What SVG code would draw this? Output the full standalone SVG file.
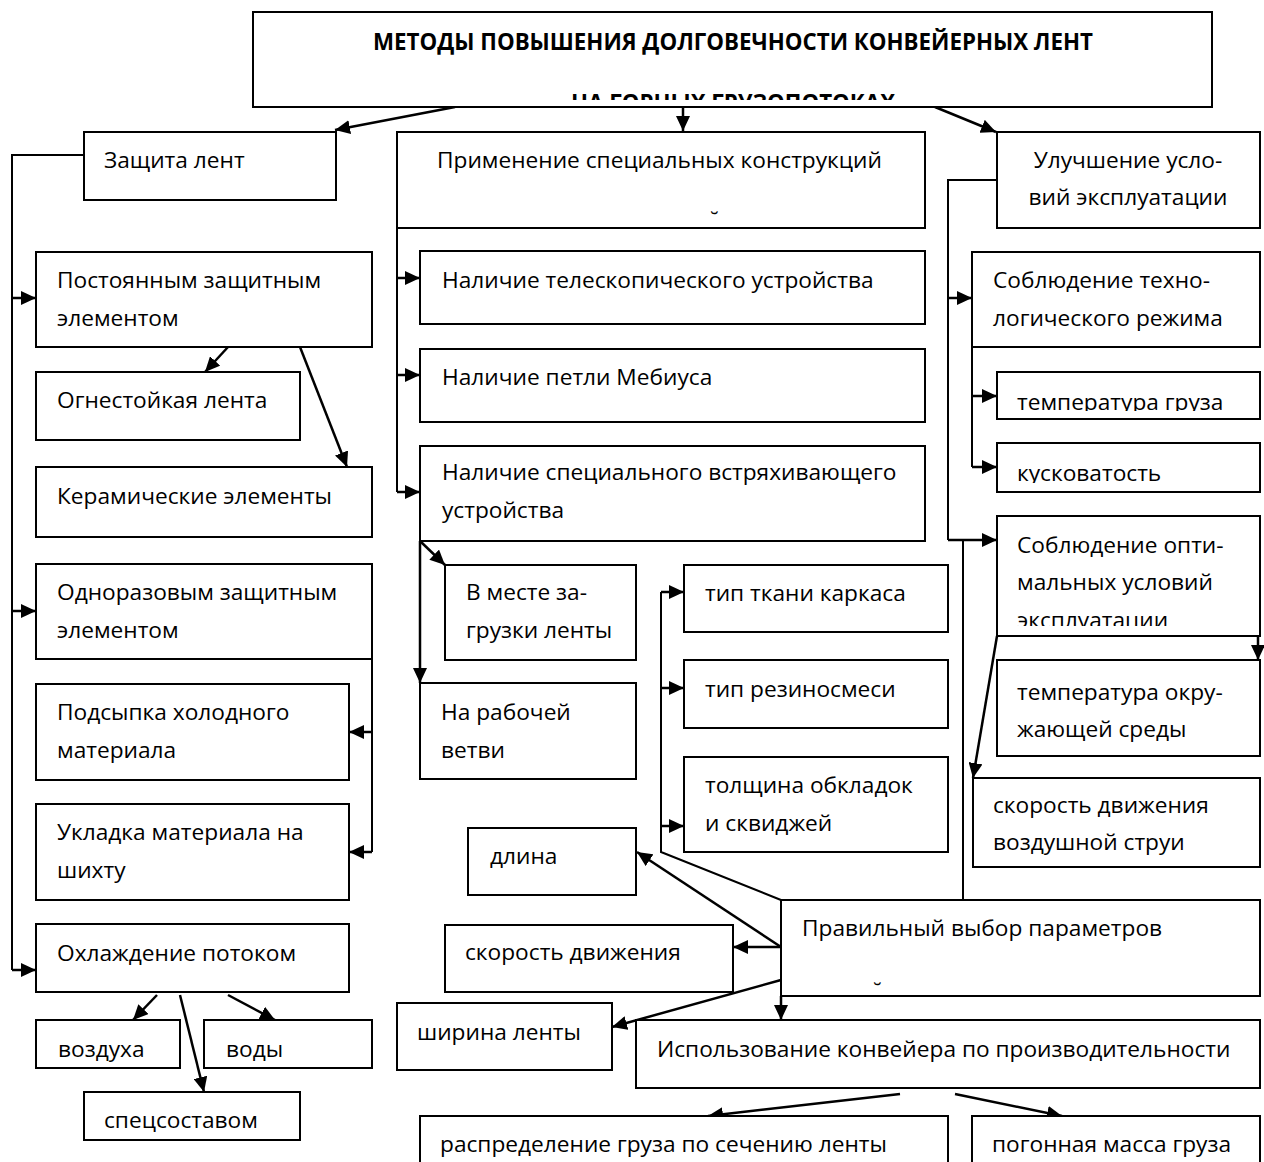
<svg xmlns="http://www.w3.org/2000/svg" width="1264" height="1162" viewBox="0 0 1264 1162">
<style>
.box{fill:#fff;stroke:#000;stroke-width:2}
.t{font-family:"Open Sans","Noto Sans","DejaVu Sans",sans-serif;font-size:22.7px;fill:#000}
.ttl{font-family:"Open Sans","Noto Sans","DejaVu Sans",sans-serif;font-size:22.3px;font-weight:bold;fill:#000}
.c{fill:none;stroke:#000;stroke-width:2}
.a{fill:none;stroke:#000;stroke-width:2.5;marker-end:url(#ah)}
</style>
<defs>
<marker id="ah" markerUnits="userSpaceOnUse" markerWidth="16" markerHeight="14" refX="15" refY="7" orient="auto">
<path d="M0,0 L15,7 L0,14 z" fill="#000"/>
</marker>
<clipPath id="cpTitle"><rect x="253" y="93" width="959" height="7"/></clipPath>
<clipPath id="cpTG"><rect x="997" y="372" width="263" height="39"/></clipPath>
<clipPath id="cpK"><rect x="997" y="443" width="263" height="40"/></clipPath>
<clipPath id="cpSO"><rect x="997" y="516" width="263" height="110"/></clipPath>
</defs>
<rect width="1264" height="1162" fill="#fff"/>

<g id="connectors">
<path class="a" d="M455,107 L335,130"/>
<path class="a" d="M683,107 L683,131"/>
<path class="a" d="M935,107 L996,132"/>
<path class="c" d="M84,155 L12,155 L12,970"/>
<path class="a" d="M12,298 L36,298"/>
<path class="a" d="M12,611 L36,611"/>
<path class="a" d="M12,970 L36,970"/>
<path class="a" d="M228,347 L205,372"/>
<path class="a" d="M300,347 L347,467"/>
<path class="c" d="M372,659 L372,852"/>
<path class="a" d="M372,732 L349,732"/>
<path class="a" d="M372,852 L349,852"/>
<path class="a" d="M157,995 L133,1020"/>
<path class="a" d="M180,995 L204,1092"/>
<path class="a" d="M228,995 L275,1020"/>
<path class="c" d="M397,228 L397,492"/>
<path class="a" d="M397,278 L420,278"/>
<path class="a" d="M397,375 L420,375"/>
<path class="a" d="M397,492 L420,492"/>
<path class="a" d="M420,541 L420,683"/>
<path class="a" d="M420,541 L445,565"/>
<path class="c" d="M781,900 L661,852 L661,592"/>
<path class="a" d="M661,592 L684,592"/>
<path class="a" d="M661,688 L684,688"/>
<path class="a" d="M661,826 L684,826"/>
<path class="a" d="M781,947 L637,852"/>
<path class="a" d="M781,947 L733,947"/>
<path class="a" d="M781,980 L612,1027"/>
<path class="a" d="M781,996 L781,1020"/>
<path class="c" d="M963,540 L963,900"/>
<path class="c" d="M997,180 L948,180 L948,540"/>
<path class="a" d="M948,298 L972,298"/>
<path class="a" d="M948,540 L997,540"/>
<path class="c" d="M972,347 L972,467"/>
<path class="a" d="M972,396 L997,396"/>
<path class="a" d="M972,467 L997,467"/>
<path class="a" d="M1258,636 L1258,660"/>
<path class="a" d="M997,636 L973,778"/>
<path class="a" d="M900,1094 L708,1116"/>
<path class="a" d="M955,1094 L1062,1116"/>
</g>

<g id="n-title"><rect class="box" x="253" y="12" width="959" height="95"/>
<text class="ttl" x="733" y="50" text-anchor="middle">МЕТОДЫ ПОВЫШЕНИЯ ДОЛГОВЕЧНОСТИ КОНВЕЙЕРНЫХ ЛЕНТ</text>
<text class="ttl" x="733" y="111" text-anchor="middle" clip-path="url(#cpTitle)">НА ГОРНЫХ ГРУЗОПОТОКАХ</text></g>

<g id="n-zashita"><rect class="box" x="84" y="132" width="252" height="68"/><text class="t" x="104" y="168">Защита лент</text></g>
<g id="n-primenenie"><rect class="box" x="397" y="132" width="528" height="96"/><text class="t" x="437" y="168">Применение специальных конструкций</text><text class="t" x="710" y="228" font-size="14">˘</text></g>
<g id="n-uluchshenie"><rect class="box" x="997" y="132" width="263" height="96"/><text class="t" x="1128" y="168" text-anchor="middle">Улучшение усло-</text><text class="t" x="1128" y="205" text-anchor="middle">вий эксплуатации</text></g>

<g id="n-postoyannym"><rect class="box" x="36" y="252" width="336" height="95"/><text class="t" x="57" y="288">Постоянным защитным</text><text class="t" x="57" y="326">элементом</text></g>
<g id="n-ognestoikaya"><rect class="box" x="36" y="372" width="264" height="68"/><text class="t" x="57" y="408">Огнестойкая лента</text></g>
<g id="n-keramicheskie"><rect class="box" x="36" y="467" width="336" height="70"/><text class="t" x="57" y="504">Керамические элементы</text></g>
<g id="n-odnorazovym"><rect class="box" x="36" y="564" width="336" height="95"/><text class="t" x="57" y="600">Одноразовым защитным</text><text class="t" x="57" y="638">элементом</text></g>
<g id="n-podsypka"><rect class="box" x="36" y="684" width="313" height="96"/><text class="t" x="57" y="720">Подсыпка холодного</text><text class="t" x="57" y="758">материала</text></g>
<g id="n-ukladka"><rect class="box" x="36" y="804" width="313" height="96"/><text class="t" x="57" y="840">Укладка материала на</text><text class="t" x="57" y="878">шихту</text></g>
<g id="n-ohlazhdenie"><rect class="box" x="36" y="924" width="313" height="68"/><text class="t" x="57" y="961">Охлаждение потоком</text></g>
<g id="n-vozduha"><rect class="box" x="36" y="1020" width="144" height="48"/><text class="t" x="58" y="1057">воздуха</text></g>
<g id="n-vody"><rect class="box" x="204" y="1020" width="168" height="48"/><text class="t" x="226" y="1057">воды</text></g>
<g id="n-specsostavom"><rect class="box" x="84" y="1092" width="216" height="48"/><text class="t" x="104" y="1128">спецсоставом</text></g>

<g id="n-teleskop"><rect class="box" x="420" y="251" width="505" height="73"/><text class="t" x="442" y="288">Наличие телескопического устройства</text></g>
<g id="n-mebius"><rect class="box" x="420" y="349" width="505" height="73"/><text class="t" x="442" y="385">Наличие петли Мебиуса</text></g>
<g id="n-vstryah"><rect class="box" x="420" y="446" width="505" height="95"/><text class="t" x="442" y="480">Наличие специального встряхивающего</text><text class="t" x="442" y="518">устройства</text></g>
<g id="n-vmeste"><rect class="box" x="445" y="565" width="191" height="95"/><text class="t" x="466" y="600">В месте за-</text><text class="t" x="466" y="638">грузки ленты</text></g>
<g id="n-narabochei"><rect class="box" x="420" y="683" width="216" height="96"/><text class="t" x="441" y="720">На рабочей</text><text class="t" x="441" y="758">ветви</text></g>
<g id="n-tiptkani"><rect class="box" x="684" y="565" width="264" height="67"/><text class="t" x="705" y="601">тип ткани каркаса</text></g>
<g id="n-tiprezino"><rect class="box" x="684" y="660" width="264" height="68"/><text class="t" x="705" y="697">тип резиносмеси</text></g>
<g id="n-tolshina"><rect class="box" x="684" y="757" width="264" height="95"/><text class="t" x="705" y="793">толщина обкладок</text><text class="t" x="705" y="831">и сквиджей</text></g>
<g id="n-dlina"><rect class="box" x="468" y="828" width="168" height="67"/><text class="t" x="490" y="864">длина</text></g>
<g id="n-skorost"><rect class="box" x="445" y="925" width="288" height="67"/><text class="t" x="465" y="960">скорость движения</text></g>
<g id="n-shirina"><rect class="box" x="397" y="1003" width="215" height="67"/><text class="t" x="417" y="1040">ширина ленты</text></g>
<g id="n-pravilny"><rect class="box" x="781" y="900" width="479" height="96"/><text class="t" x="802" y="936">Правильный выбор параметров</text><text class="t" x="873" y="999" font-size="14">˘</text></g>
<g id="n-ispolzovanie"><rect class="box" x="636" y="1020" width="624" height="68"/><text class="t" x="657" y="1057">Использование конвейера по производительности</text></g>
<g id="n-raspredelenie"><rect class="box" x="420" y="1116" width="528" height="50"/><text class="t" x="440" y="1152">распределение груза по сечению ленты</text></g>
<g id="n-pogonnaya"><rect class="box" x="972" y="1116" width="288" height="50"/><text class="t" x="992" y="1152">погонная масса груза</text></g>

<g id="n-soblyud-tehno"><rect class="box" x="972" y="252" width="288" height="95"/><text class="t" x="993" y="288">Соблюдение техно-</text><text class="t" x="993" y="326">логического режима</text></g>
<g id="n-temp-gruza"><rect class="box" x="997" y="372" width="263" height="47"/><text class="t" x="1017" y="410" clip-path="url(#cpTG)">температура груза</text></g>
<g id="n-kuskovatost"><rect class="box" x="997" y="443" width="263" height="49"/><text class="t" x="1017" y="481" clip-path="url(#cpK)">кусковатость</text></g>
<g id="n-soblyud-opti"><rect class="box" x="997" y="516" width="263" height="120"/><text class="t" x="1017" y="553">Соблюдение опти-</text><text class="t" x="1017" y="590">мальных условий</text><text class="t" x="1017" y="628" clip-path="url(#cpSO)">эксплуатации</text></g>
<g id="n-temp-okr"><rect class="box" x="997" y="660" width="263" height="96"/><text class="t" x="1017" y="700">температура окру-</text><text class="t" x="1017" y="737">жающей среды</text></g>
<g id="n-skorost-vozd"><rect class="box" x="973" y="778" width="287" height="89"/><text class="t" x="993" y="813">скорость движения</text><text class="t" x="993" y="850">воздушной струи</text></g>
</svg>
